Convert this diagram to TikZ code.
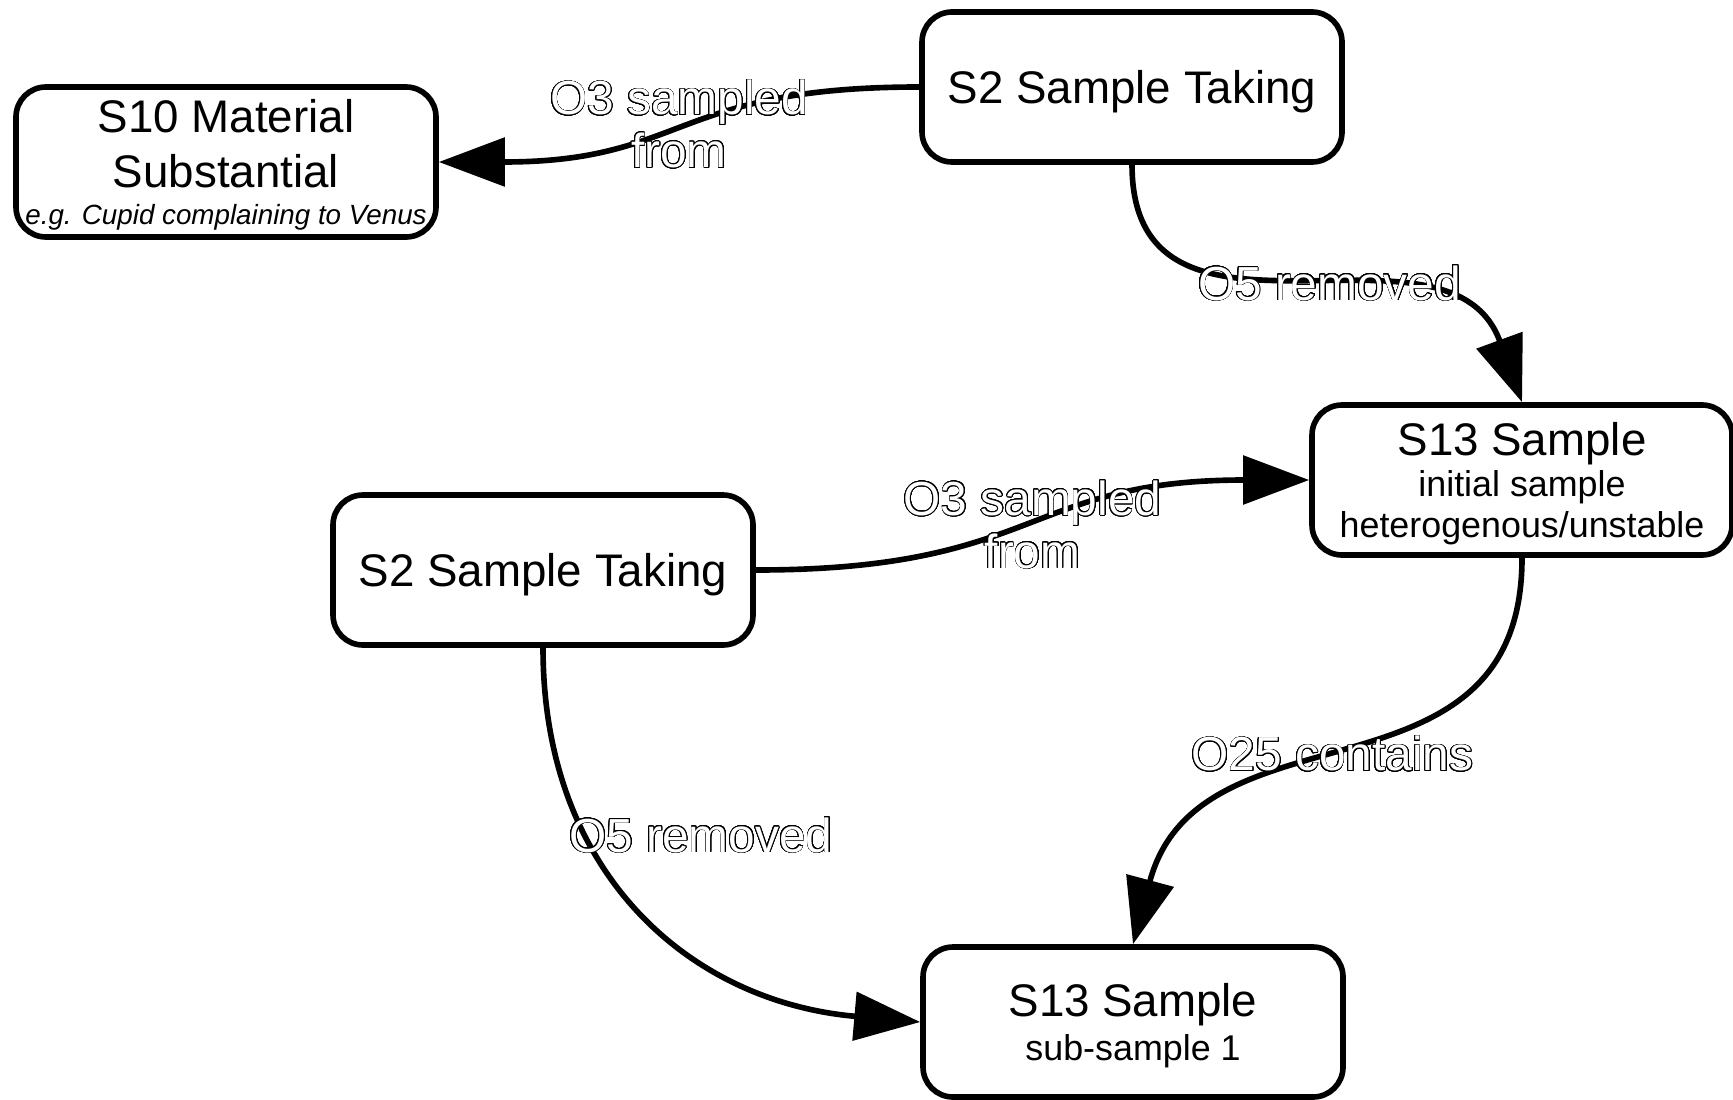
\documentclass[tikz,border=0pt]{standalone}
\usepackage{fontspec}
\setmainfont{Liberation Sans}
\usepackage{xcolor}
\usepackage{contour}
\usetikzlibrary{arrows.meta}
\contourlength{0.22pt}
\contournumber{32}
\newcommand{\hollow}[1]{\contour{black}{\textcolor{white}{#1}}}
\tikzset{
  stepbox/.style={draw=black, line width=1.6pt, fill=white, rounded corners=0.3cm,
    minimum width=4.2cm, minimum height=1.5cm, align=center, inner sep=2pt,
    text depth=0pt, font=\fontsize{13}{15.6}\selectfont},
  link/.style={line width=1.6pt, -{Triangle[length=0.66cm,width=0.48cm]}},
  lbl/.style={font=\fontsize{13.6}{15}\selectfont, align=center, inner sep=0pt}
}

\begin{document}
\begin{tikzpicture}
\useasboundingbox (0,0) rectangle (17.33,10.99);
% Boxes
\node[stepbox, text depth=-0.8pt] (s10) at (2.26,9.37) {S10 Material\\Substantial\\[-5pt]{\fontsize{7.9}{9}\selectfont\itshape e.g. Cupid complaining to Venus}};
\node[stepbox] (s2a) at (11.32,10.12) {S2 Sample Taking};
\node[stepbox, text depth=-1.2pt] (s13a) at (15.22,6.19) {S13 Sample\\[-4pt]{\fontsize{10.2}{11}\selectfont initial sample}\\[-4pt]{\fontsize{10.2}{11}\selectfont heterogenous/unstable}};
\node[stepbox] (s2b) at (5.43,5.29) {S2 Sample Taking};
\node[stepbox, text depth=-2.5pt] (s13b) at (11.33,0.77) {S13 Sample\\[-3pt]{\fontsize{10.2}{11}\selectfont sub-sample 1}};
% Links
\draw[link] (s2a.west) to[out=180,in=0,looseness=1.3]
  node[lbl] (l1) {\hollow{O3 sampled}\\\hollow{from}} (s10.east);
\draw[link] (s2a.south) to[out=-90,in=110,looseness=1.2]
  node[lbl, xshift=0.3cm, yshift=0.05cm] (l2) {\hollow{O5 removed}} (s13a.north);
\draw[link] (s2b.east) to[out=0,in=180,looseness=1.3]
  node[lbl] (l3) {\hollow{O3 sampled}\\\hollow{from}} (s13a.west);
\draw[link] (s13a.south) to[out=-90,in=75,looseness=1.2]
  node[lbl, xshift=-0.2cm] (l4) {\hollow{O25 contains}} (s13b.north);
\draw[link] (s2b.south) to[out=-90,in=175,looseness=1.1]
  node[lbl, pos=0.32, anchor=west, xshift=-0.2cm] (l5) {\hollow{O5 removed}} (s13b.west);
\end{tikzpicture}
\end{document}
